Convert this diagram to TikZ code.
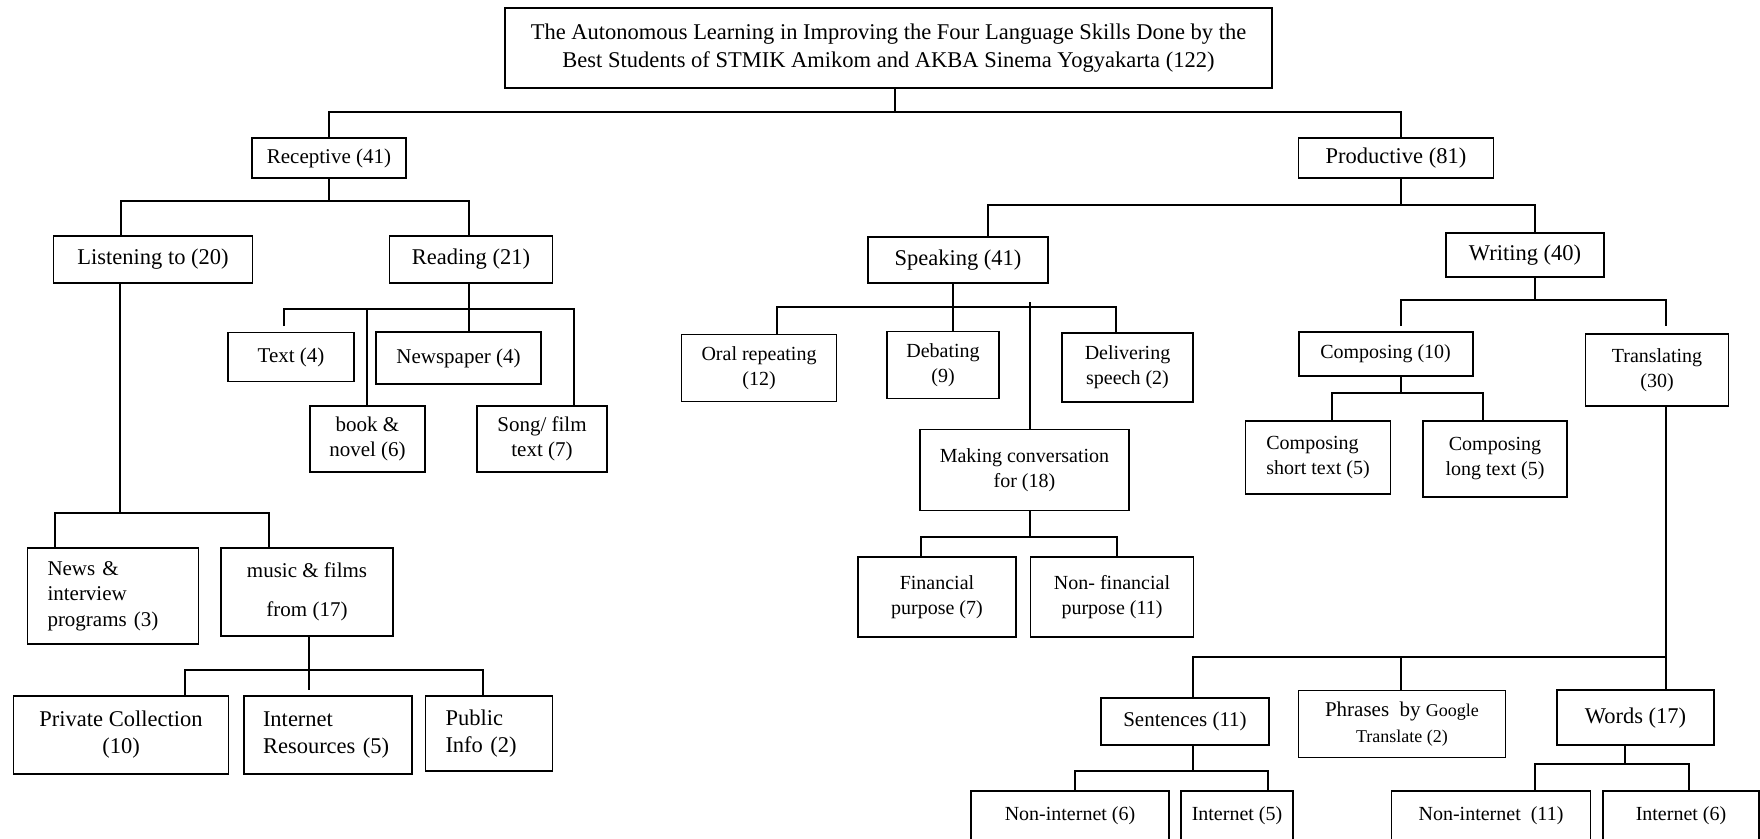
\documentclass[tikz,border=0pt]{standalone}
\usepackage{fontspec}
\setmainfont{Liberation Serif}
\begin{document}
\begin{tikzpicture}[x=1pt,y=-1pt,line width=1.8pt,
  box/.style={draw, align=center, inner sep=2pt, font=\fontsize{21}{25.5}\selectfont},
  big/.style={font=\fontsize{22.5}{27}\selectfont},
  small/.style={font=\fontsize{20}{25}\selectfont},
  sz/.style 2 args={minimum width=#1, minimum height=#2}]
\useasboundingbox (0,0) rectangle (1760,838);
\clip (0,0) rectangle (1760,838);

\node[box, big, sz={767}{80}, font=\fontsize{22.5}{28}\selectfont] (top) at (888.5,48) {The Autonomous Learning in Improving the Four Language Skills Done by the\\Best Students of STMIK Amikom and AKBA Sinema Yogyakarta (122)};

% receptive side
\node[box, sz={154}{40}] (rec) at (329,158) {Receptive (41)};
\node[box, big, sz={199}{47}] (listen) at (153,259.5) {Listening to (20)};
\node[box, big, sz={163}{47}] (read) at (471,259.5) {Reading (21)};
\node[box, sz={171}{96}, text width=131, align=left, inner xsep=20] (news) at (113,596) {News \&\\interview\\programs (3)};
\node[box, sz={172}{88}] (music) at (307,592) {music \& films\\[14pt]from (17)};
\node[box, big, sz={215}{78}] (pc) at (121,735) {Private Collection\\(10)};
\node[box, big, sz={168}{78}, text width=130, align=left, inner xsep=19] (ir) at (328,735) {Internet\\Resources (5)};
\node[box, big, sz={127}{75}, text width=87, align=left, inner xsep=20] (pub) at (489,733.5) {Public\\Info (2)};
\node[box, sz={126}{49}] (text) at (291,357) {Text (4)};
\node[box, sz={165}{52}] (newsp) at (458.5,358) {Newspaper (4)};
\node[box, sz={115}{66}] (book) at (367.5,439) {book \&\\novel (6)};
\node[box, sz={130}{66}] (song) at (542,439) {Song/ film\\text (7)};

% productive side
\node[box, big, sz={195}{40}] (prod) at (1396,158) {Productive (81)};
\node[box, big, sz={180}{46}] (speak) at (958,260) {Speaking (41)};
\node[box, big, sz={158}{44}] (write) at (1525,255) {Writing (40)};
\node[box, small, sz={155}{67}] (oral) at (759,368) {Oral repeating\\(12)};
\node[box, small, sz={112}{67}] (deb) at (943,365) {Debating\\(9)};
\node[box, small, sz={131}{69}] (deliv) at (1127.5,367.5) {Delivering\\speech (2)};
\node[box, small, sz={209}{81}] (make) at (1024.5,470) {Making conversation\\for (18)};
\node[box, small, sz={158}{80}] (fin) at (937,597) {Financial\\purpose (7)};
\node[box, small, sz={163}{80}] (nonfin) at (1112,597) {Non- financial\\purpose (11)};
\node[box, small, sz={174}{44}] (comp) at (1385.6,354) {Composing (10)};
\node[box, small, sz={143}{72}] (trans) at (1657,370) {Translating\\(30)};
\node[box, small, sz={145}{73}, align=left] (short) at (1318,457.5) {Composing\\short text (5)};
\node[box, small, sz={144}{76}] (long) at (1495,459) {Composing\\long text (5)};
\node[box, sz={168}{47}] (sent) at (1185,721.5) {Sentences (11)};
\node[box, sz={207}{67}] (phr) at (1402,724) {Phrases\ \ by {\fontsize{18}{22}\selectfont Google}\\{\fontsize{18}{22}\selectfont Translate (2)}};
\node[box, big, sz={157}{55}] (words) at (1635.5,717.6) {Words (17)};
\node[box, small, sz={198}{50}] (ni6) at (1070,816) {Non-internet (6)};
\node[box, small, sz={112}{50}] (in5) at (1237,816) {Internet (5)};
\node[box, small, sz={199}{50}] (ni11) at (1491,816) {Non-internet\ \ (11)};
\node[box, small, sz={156}{50}] (in6) at (1681,816) {Internet (6)};

% connectors
\draw (top.south -| 895,0) -- (895,112) coordinate (b0);
\draw (rec.north -| 329,0) |- (b0) -| (prod.north -| 1401,0);

\draw (rec.south -| 329,0) -- (329,201) coordinate (b1);
\draw (listen.north -| 121,0) |- (b1) -| (read.north -| 469,0);

\draw (listen.south -| 120,0) -- (120,513) coordinate (b2);
\draw (news.north -| 55,0) |- (b2) -| (music.north -| 269,0);

\coordinate (pubgap) at (483,674);
\draw (music.south -| 309,0) -- (309,690);
\draw (pc.north -| 185,0) |- (483,670) -- (pubgap);
\draw (pubgap) -- (pub.north -| 483,0);

\coordinate (textgap) at (284,326);
\draw (read.south -| 469,0) -- (469,309) coordinate (b4);
\draw (textgap) |- (b4) -| (song.north -| 574,0);
\draw (b4) -- (newsp.north -| 469,0);
\draw (book.north -| 367,0) -- (b4 -| 367,0);

\draw (prod.south -| 1401,0) -- (1401,205) coordinate (b5);
\draw (speak.north -| 988,0) |- (b5) -| (write.north -| 1535,0);

\draw (speak.south -| 953,0) -- (953,307) coordinate (b6);
\draw (oral.north -| 777,0) |- (b6) -| (deliv.north -| 1116,0);
\draw (b6) -- (deb.north -| 953,0);
\draw (make.north -| 1030,0) -- (1030,302);

\draw (make.south -| 1030,0) -- (1030,537) coordinate (b7);
\draw (fin.north -| 921,0) |- (b7) -| (nonfin.north -| 1117,0);

\coordinate (compgap) at (1401,326);
\coordinate (transgap) at (1666,326);
\draw (write.south -| 1535,0) -- (1535,300) coordinate (b8);
\draw (compgap) |- (b8) -| (transgap);

\draw (comp.south -| 1401,0) -- (1401,393) coordinate (b9);
\draw (short.north -| 1332,0) |- (b9) -| (long.north -| 1483,0);

\draw (trans.south -| 1666,0) -- (1666,657) coordinate (b10);
\draw (sent.north -| 1193,0) |- (b10) -- (words.north -| 1666,0);
\draw (phr.north -| 1401,0) -- (b10 -| 1401,0);

\draw (sent.south -| 1193,0) -- (1193,771) coordinate (b11);
\draw (ni6.north -| 1075,0) |- (b11) -| (in5.north -| 1268,0);

\draw (words.south -| 1625,0) -- (1625,764) coordinate (b12);
\draw (ni11.north -| 1535,0) |- (b12) -| (in6.north -| 1689,0);
\end{tikzpicture}
\end{document}
